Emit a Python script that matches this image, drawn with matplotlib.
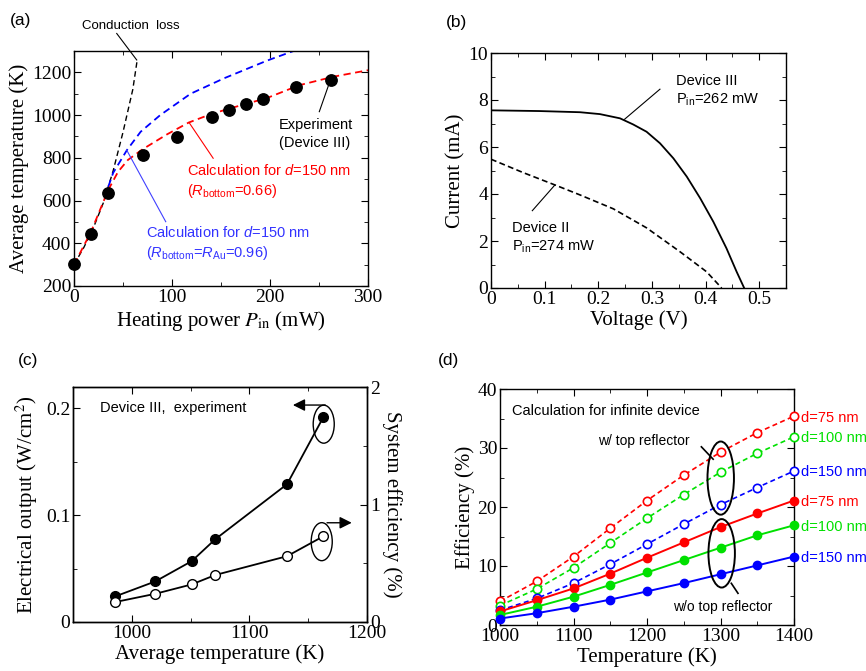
import numpy as np
import matplotlib
matplotlib.use('Agg')
import matplotlib.pyplot as plt
from matplotlib.patches import Ellipse
from matplotlib.ticker import MultipleLocator

plt.rcParams['font.family'] = 'Liberation Serif'
plt.rcParams['mathtext.fontset'] = 'custom'
plt.rcParams['mathtext.rm'] = 'Liberation Sans'
plt.rcParams['mathtext.it'] = 'Liberation Sans:italic'
plt.rcParams['xtick.direction'] = 'in'
plt.rcParams['ytick.direction'] = 'in'
plt.rcParams['xtick.major.size'] = 5
plt.rcParams['ytick.major.size'] = 5
plt.rcParams['xtick.minor.size'] = 3
plt.rcParams['ytick.minor.size'] = 3
plt.rcParams['axes.linewidth'] = 1.0

SANS = 'Liberation Sans'
TICK_FS = 14
LABEL_FS = 15
NOTE_FS = 10.5
RED = '#ff0000'
GREEN = '#00e000'
BLUE = '#0000ff'

# (a) temperature vs heating power
exp_power = [0, 17, 35, 70, 105, 141, 158, 176, 193, 227, 262]
exp_temp = [301, 445, 634, 812, 899, 989, 1024, 1054, 1074, 1131, 1164]
cond_power = [0, 10, 20, 30, 40, 50, 60, 64.5]
cond_temp = [300, 380, 475, 590, 740, 920, 1120, 1258]
calc066_power = [0, 17, 35, 45, 55, 70, 95, 117, 140, 162, 197, 230, 265, 300]
calc066_temp = [300, 450, 650, 735, 790, 840, 910, 965, 1005, 1035, 1080, 1140, 1180, 1210]
calc096_power = [35, 40, 54, 68, 88, 119, 153, 197, 224]
calc096_temp = [665, 730, 836, 922, 1000, 1100, 1172, 1255, 1300]

# (b) I-V curves
dev3_v = [0, 0.09, 0.166, 0.203, 0.2405, 0.265, 0.290, 0.315, 0.340, 0.365, 0.390,
          0.4145, 0.439, 0.458, 0.472]
dev3_i = [7.56, 7.53, 7.48, 7.40, 7.22, 6.96, 6.65, 6.16, 5.52, 4.74, 3.82,
          2.82, 1.69, 0.69, 0.0]
dev2_v = [0, 0.06, 0.122, 0.166, 0.228, 0.290, 0.352, 0.402, 0.430]
dev2_i = [5.48, 4.91, 4.36, 3.96, 3.37, 2.56, 1.55, 0.69, 0.0]

# (c) output and system efficiency
temp_c = [986, 1020, 1051, 1071, 1132, 1163]
elec_output = [0.024, 0.038, 0.057, 0.0775, 0.129, 0.192]
sys_eff = [0.17, 0.24, 0.32, 0.40, 0.56, 0.73]

# (d) calculated efficiency
temp_d = [1000, 1050, 1100, 1150, 1200, 1250, 1300, 1350, 1400]
eff_w_75 = [4.0, 7.4, 11.6, 16.4, 21.1, 25.4, 29.3, 32.6, 35.4]
eff_w_100 = [3.3, 6.1, 9.7, 13.9, 18.1, 22.1, 25.9, 29.1, 31.9]
eff_w_150 = [2.5, 4.5, 7.1, 10.3, 13.7, 17.1, 20.4, 23.3, 26.1]
eff_wo_75 = [2.3, 4.2, 6.2, 8.7, 11.4, 14.0, 16.6, 18.9, 21.1]
eff_wo_100 = [1.7, 3.1, 4.8, 6.8, 8.9, 11.0, 13.1, 15.2, 16.9]
eff_wo_150 = [1.1, 2.0, 3.1, 4.3, 5.7, 7.1, 8.6, 10.1, 11.6]
d_labels = ['d=75 nm', 'd=100 nm', 'd=150 nm']
d_colors = [RED, GREEN, BLUE]

W, H = 866, 671
fig = plt.figure(figsize=(W / 100, H / 100), dpi=100)


def box(l, t, r, b):
    return [l / W, 1 - b / H, (r - l) / W, (b - t) / H]


def style(ax, xmaj, xmin, ymaj, ymin, right=True):
    ax.xaxis.set_major_locator(MultipleLocator(xmaj))
    ax.xaxis.set_minor_locator(MultipleLocator(xmin))
    ax.yaxis.set_major_locator(MultipleLocator(ymaj))
    ax.yaxis.set_minor_locator(MultipleLocator(ymin))
    ax.tick_params(which='both', top=True, right=right, labelsize=TICK_FS, pad=2)


# ---- (a)
ax = fig.add_axes(box(74, 51, 368, 286))
ax.plot(cond_power, cond_temp, '--', color='k', lw=1.0, dashes=(4, 2.5))
ax.plot(calc096_power, calc096_temp, '--', color=BLUE, lw=1.3, dashes=(4, 2.5))
ax.plot(calc066_power, calc066_temp, '--', color=RED, lw=1.3, dashes=(4, 2.5))
ax.plot(exp_power, exp_temp, 'o', color='k', ms=8.2, clip_on=False, zorder=5)
ax.set_xlim(0, 300)
ax.set_ylim(200, 1300)
style(ax, 100, 50, 200, 100)
ax.set_xlabel('Heating power $P_{\\rm in}$ (mW)', fontsize=LABEL_FS,
              math_fontfamily='stix', labelpad=2)
ax.set_ylabel('Average temperature (K)', fontsize=LABEL_FS, labelpad=2)
ax.plot([64, 43.6], [1258, 1382], color='k', lw=0.8, clip_on=False)
ax.text(8, 1417, 'Conduction  loss', family=SANS, fontsize=9.5, va='center')
ax.plot([261, 250.3], [1156, 1016], color='k', lw=0.8)
ax.text(209, 911, 'Experiment\n(Device III)', family=SANS, fontsize=NOTE_FS,
        va='center', linespacing=1.3)
ax.plot([117.6, 142], [964, 798], color=RED, lw=0.8)
ax.text(115, 691, 'Calculation for $d$=150 nm\n($R_{\\rm bottom}$=0.66)', family=SANS,
        fontsize=NOTE_FS, color=RED, va='center', linespacing=1.3)
ax.plot([53.8, 93.6], [836, 501], color='#4040ff', lw=0.8)
ax.text(73, 397, 'Calculation for $d$=150 nm\n($R_{\\rm bottom}$=$R_{\\rm Au}$=0.96)',
        family=SANS, fontsize=NOTE_FS, color='#3333ff', va='center', linespacing=1.3)

# ---- (b)
ax = fig.add_axes(box(491, 53, 786, 288))
ax.plot(dev3_v, dev3_i, '-', color='k', lw=1.3)
ax.plot(dev2_v, dev2_i, '--', color='k', lw=1.2, dashes=(3.5, 2))
ax.set_xlim(0, 0.55)
ax.set_ylim(0, 10)
style(ax, 0.1, 0.05, 2, 1)
ax.set_xticks([0, 0.1, 0.2, 0.3, 0.4, 0.5])
ax.set_xticklabels(['0', '0.1', '0.2', '0.3', '0.4', '0.5'])
ax.set_xlabel('Voltage (V)', fontsize=LABEL_FS, labelpad=2)
ax.set_ylabel('Current (mA)', fontsize=LABEL_FS, labelpad=2)
ax.plot([0.249, 0.315], [7.18, 8.46], color='k', lw=0.8)
ax.text(0.344, 8.4, 'Device III\nP$_{\\rm in}$=262 mW', family=SANS, fontsize=NOTE_FS,
        va='center', linespacing=1.3)
ax.plot([0.119, 0.077], [4.38, 3.29], color='k', lw=0.8)
ax.text(0.040, 2.12, 'Device II\nP$_{\\rm in}$=274 mW', family=SANS, fontsize=NOTE_FS,
        va='center', linespacing=1.3)

# ---- (c)
ax = fig.add_axes(box(73, 387, 367, 622))
ax2 = ax.twinx()
ax.plot(temp_c, elec_output, '-o', color='k', lw=1.3, ms=7, zorder=4)
ax2.plot(temp_c, sys_eff, '-o', color='k', lw=1.3, ms=7, mfc='white', zorder=4)
ax.set_xlim(950, 1200)
ax.set_ylim(0, 0.22)
ax2.set_ylim(0, 2)
style(ax, 100, 50, 0.1, 0.05, right=False)
ax.set_yticks([0, 0.1, 0.2])
ax.set_yticklabels(['0', '0.1', '0.2'])
ax2.yaxis.set_major_locator(MultipleLocator(1))
ax2.yaxis.set_minor_locator(MultipleLocator(0.5))
ax2.tick_params(which='both', labelsize=TICK_FS, pad=2)
ax.set_xlabel('Average temperature (K)', fontsize=LABEL_FS, labelpad=2)
ax.set_ylabel('Electrical output (W/cm$^2$)', fontsize=LABEL_FS, math_fontfamily='stix',
              labelpad=4)
ax2.set_ylabel('System efficiency (%)', fontsize=LABEL_FS, rotation=270, labelpad=16)
ax.text(973, 0.200, 'Device III,  experiment', family=SANS, fontsize=NOTE_FS, va='center')
ax.add_patch(Ellipse((1163.2, 0.1852), 17.9, 0.0356, fill=False, lw=1.0, color='k'))
ax.add_patch(Ellipse((1161.5, 0.0752), 17.9, 0.0356, fill=False, lw=1.0, color='k'))
ax.annotate('', xy=(1137, 0.2031), xytext=(1164.5, 0.2031),
            arrowprops=dict(arrowstyle='-|>', color='k', lw=1.0, mutation_scale=18,
                            shrinkA=0, shrinkB=0))
ax.annotate('', xy=(1187, 0.0929), xytext=(1166, 0.0929),
            arrowprops=dict(arrowstyle='-|>', color='k', lw=1.0, mutation_scale=18,
                            shrinkA=0, shrinkB=0))

# ---- (d)
ax = fig.add_axes(box(500, 389, 794, 625))
w_series = [eff_w_75, eff_w_100, eff_w_150]
wo_series = [eff_wo_75, eff_wo_100, eff_wo_150]
for vals, c in zip(w_series, d_colors):
    ax.plot(temp_d, vals, '--o', color=c, lw=1.2, dashes=(3, 2), ms=6, mfc='white',
            mew=1.2, clip_on=False, zorder=4)
for vals, c in zip(wo_series, d_colors):
    ax.plot(temp_d, vals, '-o', color=c, lw=1.4, ms=6, clip_on=False, zorder=4)
for vals, c, lab in zip(w_series + wo_series, d_colors * 2, d_labels * 2):
    ax.annotate(lab, xy=(temp_d[-1], vals[-1]), xytext=(5, -1), textcoords='offset points',
                family=SANS, fontsize=NOTE_FS, color=c, va='center', annotation_clip=False)
ax.set_xlim(1000, 1400)
ax.set_ylim(0, 40)
style(ax, 100, 50, 10, 5)
ax.set_xlabel('Temperature (K)', fontsize=LABEL_FS, labelpad=2)
ax.set_ylabel('Efficiency (%)', fontsize=LABEL_FS, labelpad=2)
ax.text(1016, 36.3, 'Calculation for infinite device', family=SANS, fontsize=NOTE_FS,
        va='center')
ax.text(1133, 31.2, 'w/ top reflector', family=SANS, fontsize=NOTE_FS - 0.5, va='center')
ax.text(1236, 3.1, 'w/o top reflector', family=SANS, fontsize=NOTE_FS - 0.5, va='center')
ax.add_patch(Ellipse((1300.3, 24.9), 36, 12.4, fill=False, lw=1.4, color='k', zorder=5))
ax.add_patch(Ellipse((1301.6, 12.15), 36, 11.6, fill=False, lw=1.4, color='k', zorder=5))
ax.plot([1274, 1290], [30.2, 28.1], color='k', lw=1.2)
ax.plot([1314.7, 1323.8], [7.07, 5.37], color='k', lw=1.2)

for x, y, s in [(10, 20, '(a)'), (446, 23, '(b)'), (18, 360, '(c)'), (438, 360, '(d)')]:
    fig.text(x / W, 1 - y / H, s, family=SANS, fontsize=12.5, va='center')

fig.savefig('out.png', dpi=100)
